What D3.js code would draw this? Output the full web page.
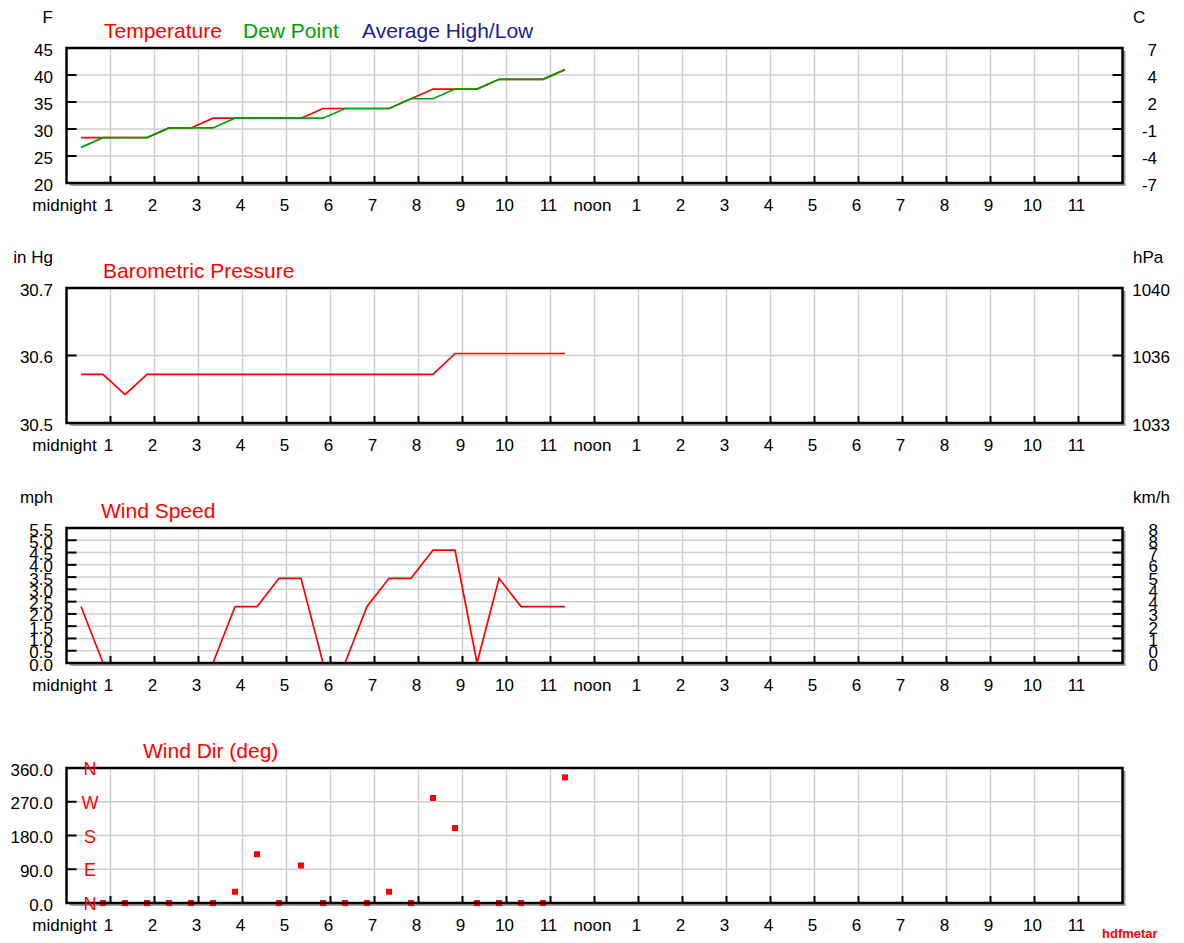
<!DOCTYPE html>
<html><head><meta charset="utf-8">
<script src="https://cdn.jsdelivr.net/npm/d3@7"></script>
<style>body{margin:0;background:#fff}svg{display:block}text{font-family:"Liberation Sans",Arial,sans-serif}</style>
</head><body><svg id="c" width="1184" height="943"></svg>
<script>
// ---- data (hours after midnight) ----
const times = [0.33,0.83,1.33,1.83,2.33,2.83,3.33,3.83,4.33,4.83,5.33,5.83,6.33,6.83,7.33,7.83,8.33,8.83,9.33,9.83,10.33,10.83,11.33];
const tempF = [28.4,28.4,28.4,28.4,30.2,30.2,32,32,32,32,32,33.8,33.8,33.8,33.8,35.6,37.4,37.4,37.4,39.2,39.2,39.2,41];
const dewF  = [26.6,28.4,28.4,28.4,30.2,30.2,30.2,32,32,32,32,32,33.8,33.8,33.8,35.6,35.6,37.4,37.4,39.2,39.2,39.2,41];
const pressureInHg = [30.572,30.572,30.542,30.572,30.572,30.572,30.572,30.572,30.572,30.572,30.572,30.572,30.572,30.572,30.572,30.572,30.572,30.603,30.603,30.603,30.603,30.603,30.603];
const windMph = [2.3,0,0,0,0,0,0,2.3,2.3,3.45,3.45,0,0,2.3,3.45,3.45,4.6,4.6,0,3.45,2.3,2.3,2.3];
const windDirDeg = [null,0,0,0,0,0,0,30,130,0,100,0,0,0,30,0,280,200,0,0,0,0,335];

const hourTicks = [0,1,2,3,4,5,6,7,8,9,10,11,12,13,14,15,16,17,18,19,20,21,22,23];
const hourLabels = ["midnight","1","2","3","4","5","6","7","8","9","10","11","noon","1","2","3","4","5","6","7","8","9","10","11"];
const tempTicks = [20,25,30,35,40,45];
const tempTickLabels = ["20","25","30","35","40","45"];
const celsiusLabels = ["-7","-4","-1","2","4","7"];
const pressTicks = [30.5,30.6,30.7];
const pressTickLabels = ["30.5","30.6","30.7"];
const hpaLabels = ["1033","1036","1040"];
const windTicks = [0,0.5,1,1.5,2,2.5,3,3.5,4,4.5,5,5.5];
const windTickLabels = ["0.0","0.5","1.0","1.5","2.0","2.5","3.0","3.5","4.0","4.5","5.0","5.5"];
const kmhLabels = ["0","0","1","2","3","4","4","5","6","7","8","8"];
const dirTicks = [0,90,180,270,360];
const dirTickLabels = ["0.0","90.0","180.0","270.0","360.0"];
const compassLabels = ["N","E","S","W","N"];

const RED = "#ff0000", GREEN = "#00a000", NAVY = "#202090";
const svg = d3.select("#c");
const X0 = 66.5, X1 = 1122.5, H = 135;
const x = d3.scaleLinear().domain([0,24]).range([X0,X1]);

function panel(top, domain, ticks, tickLabels, opts) {
  const y = d3.scaleLinear().domain(domain).range([top+H, top]);
  const g = svg.append("g");
  g.append("rect").attr("x",X0+3).attr("y",top+3).attr("width",X1-X0).attr("height",H).attr("fill","#a0a0a0");
  g.append("rect").attr("x",X0).attr("y",top).attr("width",X1-X0).attr("height",H).attr("fill","#fff");
  g.selectAll(".vg").data(hourTicks.slice(1)).join("line")
    .attr("x1",d=>x(d)).attr("x2",d=>x(d)).attr("y1",top).attr("y2",top+H)
    .attr("stroke","#cfcfcf").attr("stroke-width",1.5);
  g.selectAll(".hg").data(ticks.slice(1,-1)).join("line")
    .attr("x1",X0).attr("x2",X1).attr("y1",d=>y(d)).attr("y2",d=>y(d))
    .attr("stroke","#cfcfcf").attr("stroke-width",1.5);
  const data = g.append("g");
  g.selectAll(".lt").data(ticks).join("line")
    .attr("x1",X0).attr("x2",X0+10).attr("y1",d=>y(d)).attr("y2",d=>y(d))
    .attr("stroke","#000").attr("stroke-width",2);
  if (opts.rightTicks) g.selectAll(".rt").data(ticks).join("line")
    .attr("x1",X1-10).attr("x2",X1).attr("y1",d=>y(d)).attr("y2",d=>y(d))
    .attr("stroke","#000").attr("stroke-width",2);
  g.selectAll(".bt").data(hourTicks.slice(1)).join("line")
    .attr("x1",d=>x(d)).attr("x2",d=>x(d)).attr("y1",top+H).attr("y2",top+H-7)
    .attr("stroke","#000").attr("stroke-width",2);
  g.append("rect").attr("x",X0).attr("y",top).attr("width",X1-X0).attr("height",H)
    .attr("fill","none").attr("stroke","#000").attr("stroke-width",2.5);
  g.selectAll(".yl").data(ticks).join("text")
    .attr("x",53).attr("y",d=>y(d)+2).attr("text-anchor","end").attr("dominant-baseline","central")
    .attr("font-size",17).attr("fill","#000").text((d,i)=>tickLabels[i]);
  if (opts.rightLabels) g.selectAll(".yr").data(ticks).join("text")
    .attr("x",opts.rightX).attr("y",d=>y(d)+2).attr("text-anchor","end").attr("dominant-baseline","central")
    .attr("font-size",17).attr("fill","#000").text((d,i)=>opts.rightLabels[i]);
  g.selectAll(".xl").data(hourTicks).join("text")
    .attr("x",d=>x(d)-2).attr("y",top+H+28).attr("text-anchor","middle")
    .attr("font-size",17).attr("fill","#000").text((d,i)=>hourLabels[i]);
  if (opts.leftUnit) g.append("text").attr("x",53).attr("y",top-31).attr("text-anchor","end")
    .attr("dominant-baseline","central").attr("font-size",17).text(opts.leftUnit);
  if (opts.rightUnit) g.append("text").attr("x",1133).attr("y",top-31)
    .attr("dominant-baseline","central").attr("font-size",17).text(opts.rightUnit);
  return {y, data};
}

function line(p, vals, color) {
  const gen = d3.line().defined(d=>d[1]!=null).x(d=>x(d[0])).y(d=>p.y(d[1]));
  p.data.append("path").datum(times.map((t,i)=>[t,vals[i]]))
    .attr("d",gen).attr("fill","none").attr("stroke",color).attr("stroke-width",1.7);
}
function title(txt, xx, yy, color) {
  svg.append("text").attr("x",xx).attr("y",yy).attr("dominant-baseline","central")
    .attr("font-size",21).attr("fill",color).text(txt);
}

const p1 = panel(48, [20,45], tempTicks, tempTickLabels,
  {rightTicks:true, rightLabels:celsiusLabels, rightX:1157, leftUnit:"F", rightUnit:"C"});
line(p1, tempF, RED);
line(p1, dewF, GREEN);
title("Temperature",104,30,RED);
title("Dew Point",243,30,GREEN);
title("Average High/Low",362,30,NAVY);

const p2 = panel(288, [30.5,30.7], pressTicks, pressTickLabels,
  {rightTicks:true, rightLabels:hpaLabels, rightX:1170, leftUnit:"in Hg", rightUnit:"hPa"});
line(p2, pressureInHg, RED);
title("Barometric Pressure",103,270,RED);

const p3 = panel(528, [0,5.5], windTicks, windTickLabels,
  {rightTicks:true, rightLabels:kmhLabels, rightX:1158, leftUnit:"mph", rightUnit:"km/h"});
line(p3, windMph, RED);
title("Wind Speed",101,510,RED);

const p4 = panel(768, [0,360], dirTicks, dirTickLabels, {rightTicks:false});
p4.data.selectAll("rect").data(times.map((t,i)=>[t,windDirDeg[i]]).filter(d=>d[1]!=null)).join("rect")
  .attr("x",d=>x(d[0])-3).attr("y",d=>p4.y(d[1])-3).attr("width",6).attr("height",6).attr("fill",RED);
svg.selectAll(".cmp").data(dirTicks).join("text")
  .attr("x",90).attr("y",d=>p4.y(d)+1).attr("text-anchor","middle").attr("dominant-baseline","central")
  .attr("font-size",18).attr("fill",RED).text((d,i)=>compassLabels[i]);
title("Wind Dir (deg)",143,750,RED);

svg.append("text").attr("x",1102).attr("y",933).attr("dominant-baseline","central")
  .attr("font-size",13).attr("font-weight","bold").attr("fill",RED).text("hdfmetar");
</script></body></html>
